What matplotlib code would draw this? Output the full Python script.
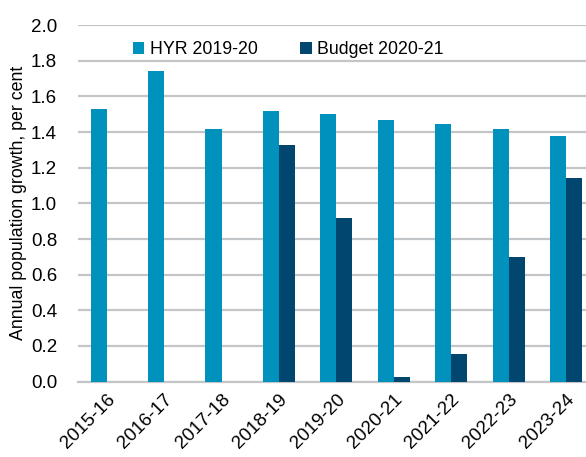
import matplotlib
matplotlib.use("Agg")
import matplotlib.pyplot as plt
import numpy as np

plt.rcParams['font.family'] = ['Liberation Sans', 'DejaVu Sans']

years  = ["2015-16", "2016-17", "2017-18", "2018-19", "2019-20",
          "2020-21", "2021-22", "2022-23", "2023-24"]
hyr    = [1.53, 1.74, 1.42, 1.52, 1.50, 1.47, 1.445, 1.42, 1.38]
budget = [np.nan, np.nan, np.nan, 1.33, 0.92, 0.026, 0.157, 0.70, 1.14]

c_hyr = "#0091BD"
c_bud = "#00466F"
c_grid = "#C3C6C9"

fig = plt.figure(figsize=(5.86, 4.57), dpi=100)
ax = fig.add_axes([0.133, 0.165, 1.015 - 0.133, 0.945 - 0.165])

x = np.arange(len(years))
w = 0.28
ax.bar(x - w / 2, hyr, w, color=c_hyr, label="HYR 2019-20", zorder=3)
ax.bar(x + w / 2, budget, w, color=c_bud, label="Budget 2020-21", zorder=3)

ax.set_xlim(-0.5, len(years) - 0.5)
ax.set_ylim(0, 2.0)
ax.set_yticks(np.arange(0, 2.01, 0.2))
ax.set_yticklabels([f"{v:.1f}" for v in np.arange(0, 2.01, 0.2)], fontsize=13.5)
ax.set_xticks(x)
ax.set_xticklabels(years, rotation=45, ha="right", rotation_mode="anchor", fontsize=13.5)
ax.tick_params(axis="y", length=0, pad=15)
ax.tick_params(axis="x", length=0, pad=7)
ax.grid(axis="y", color=c_grid, linewidth=1.6, zorder=0)
for s in ["top", "right", "left"]:
    ax.spines[s].set_visible(False)
ax.spines["bottom"].set_color(c_grid)
ax.spines["bottom"].set_linewidth(1.6)
ax.set_ylabel("Annual population growth, per cent", fontsize=12.8, labelpad=3)

ax.legend(loc="upper left", bbox_to_anchor=(0.075, 1.0), ncol=2, frameon=False,
          fontsize=12.8, handlelength=0.65, handleheight=0.65, handletextpad=0.3,
          columnspacing=2.4)

fig.savefig("out.png", dpi=100)
